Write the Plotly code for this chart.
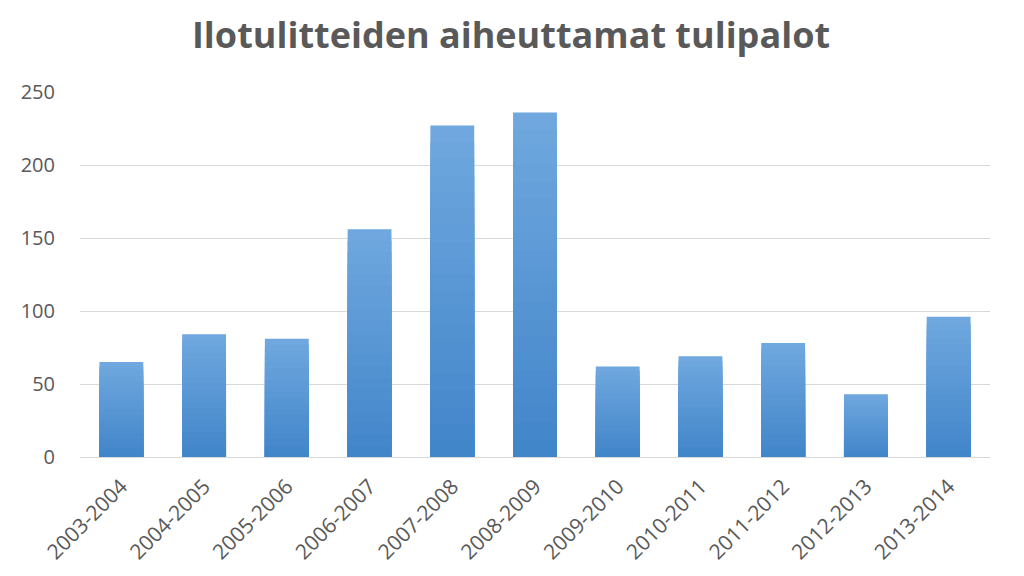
import plotly.graph_objects as go

categories = ["2003-2004", "2004-2005", "2005-2006", "2006-2007", "2007-2008",
              "2008-2009", "2009-2010", "2010-2011", "2011-2012", "2012-2013", "2013-2014"]
values = [65, 84, 81, 156, 227, 236, 62, 69, 78, 43, 96]
y_ticks = [0, 50, 100, 150, 200, 250]

title_text = "Ilotulitteiden aiheuttamat tulipalot"

top_rgb = (111, 167, 222)
bottom_rgb = (66, 134, 202)
N = 20

fig = go.Figure()
for k in range(N):
    frac = (N - k) / N
    t = k / (N - 1)
    col = tuple(round(top_rgb[i] + (bottom_rgb[i] - top_rgb[i]) * t) for i in range(3))
    fig.add_trace(go.Bar(
        x=categories,
        y=[v * frac for v in values],
        marker=dict(color="rgb(%d,%d,%d)" % col, line=dict(width=0)),
        width=0.53,
        showlegend=False,
        hoverinfo="skip" if k else "x+y",
    ))

fig.update_layout(
    barmode="overlay",
    width=1024, height=576,
    margin=dict(l=72, r=42, t=84, b=127, autoexpand=False),
    paper_bgcolor="white", plot_bgcolor="white",
    title=dict(text="<b>" + title_text + "</b>", x=503 / 1024, xref="container",
               xanchor="center", y=1 - 27 / 576, yref="container", yanchor="middle",
               font=dict(family="Open Sans", size=36, color="#595959")),
    font=dict(family="Open Sans", color="#595959"),
)
fig.update_yaxes(range=[0, 250], tickvals=y_ticks, showgrid=True, gridcolor="#D9D9D9",
                 gridwidth=1, zeroline=True, zerolinecolor="#D9D9D9", zerolinewidth=1,
                 showline=False, ticks="", ticklabelstandoff=24,
                 tickfont=dict(size=20, color="#595959"))
fig.update_xaxes(tickangle=-45, showgrid=False, showline=False, ticks="",
                 automargin=False, ticklabelstandoff=12,
                 tickfont=dict(size=21, color="#595959"))

fig.write_html("out.html")
